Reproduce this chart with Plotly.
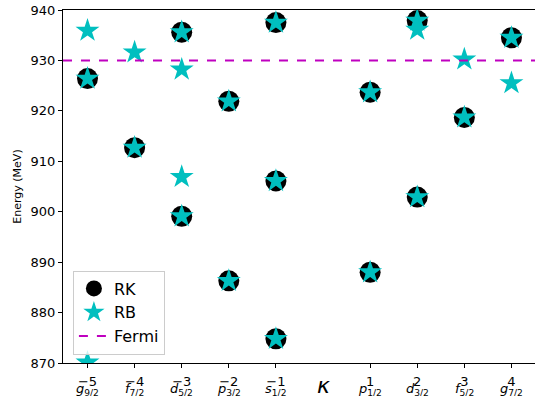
import plotly.graph_objects as go

# kappa quantum number for each state
rk_kappa = [-5, -4, -3, -3, -2, -2, -1, -1, -1, 1, 1, 2, 2, 3, 4]
rk_energy = [926.4, 912.7, 935.6, 899.1, 921.9, 886.3, 937.5, 906.1, 874.8,
             923.7, 888.0, 937.9, 902.9, 918.7, 934.5]

rb_kappa = [-5, -5, -5, -4, -4, -3, -3, -3, -3, -2, -2, -1, -1, -1, 1, 1,
            2, 2, 2, 3, 3, 4, 4]
rb_energy = [935.9, 926.4, 870.1, 931.6, 912.7, 935.6, 928.2, 906.9, 899.1,
             921.9, 886.3, 937.5, 906.1, 874.8, 923.7, 888.0, 937.9, 936.1,
             902.9, 930.2, 918.7, 934.5, 925.5]

fermi_energy = 930.0

tick_kappa = [-5, -4, -3, -2, -1, 1, 2, 3, 4]
tick_orbital = ["g", "f", "d", "p", "s", "p", "d", "f", "g"]
tick_j = ["9/2", "7/2", "5/2", "3/2", "1/2", "1/2", "3/2", "5/2", "7/2"]
y_ticks = [870, 880, 890, 900, 910, 920, 930, 940]

tick_text = [f"{k:d}".replace("-", "\u2212") for k in tick_kappa]

x_range = [-5.52, 4.5]

fig = go.Figure()
fig.add_trace(go.Scatter(
    x=rk_kappa, y=rk_energy, mode="markers", name="RK",
    marker=dict(symbol="circle", size=21, color="black", line=dict(width=0)),
))
fig.add_trace(go.Scatter(
    x=rb_kappa, y=rb_energy, mode="markers", name="RB",
    marker=dict(symbol="star", size=18, color="#00BFBF", line=dict(width=0)),
))
fig.add_trace(go.Scatter(
    x=x_range, y=[fermi_energy, fermi_energy], mode="lines", name="Fermi",
    line=dict(color="#BF00BF", width=2, dash="dash"),
))

# spectroscopic notation under each kappa tick
for k, o, j in zip(tick_kappa, tick_orbital, tick_j):
    fig.add_annotation(
        x=k, y=0, xref="x", yref="paper", yanchor="bottom", yshift=-36,
        text=f"<i>{o}</i><sub>{j}</sub>", showarrow=False, borderpad=0,
        font=dict(family="DejaVu Sans", size=13, color="black"),
    )

fig.add_annotation(
    x=0, y=0, xref="x", yref="paper", yanchor="top", yshift=-9,
    text="<i>κ</i>", showarrow=False, borderpad=0,
    font=dict(family="DejaVu Sans", size=22, color="black"),
)

fig.update_layout(
    width=535, height=396,
    margin=dict(l=63, r=0, t=10, b=33),
    paper_bgcolor="white", plot_bgcolor="white",
    font=dict(family="DejaVu Sans", color="black"),
    showlegend=True,
    legend=dict(
        x=0.021, y=0.024, xanchor="left", yanchor="bottom",
        bgcolor="rgba(255,255,255,0.8)", bordercolor="#cccccc", borderwidth=1,
        font=dict(size=16), itemsizing="trace",
    ),
)
fig.update_xaxes(
    range=x_range, tickvals=tick_kappa, ticktext=tick_text, automargin=False,
    showgrid=False, zeroline=False, showline=True, linecolor="black",
    linewidth=1.2, mirror=True, ticks="outside", ticklen=4,
    tickcolor="black", tickfont=dict(size=13), ticklabelstandoff=2,
)
fig.update_yaxes(
    range=[870, 940], tickvals=y_ticks, automargin=False,
    showgrid=False, zeroline=False, showline=True, linecolor="black",
    linewidth=1.2, ticks="outside", ticklen=4, tickcolor="black",
    tickfont=dict(size=13),
    title=dict(text="Energy (MeV)", font=dict(size=11), standoff=6),
)

fig.write_html("out.html")
